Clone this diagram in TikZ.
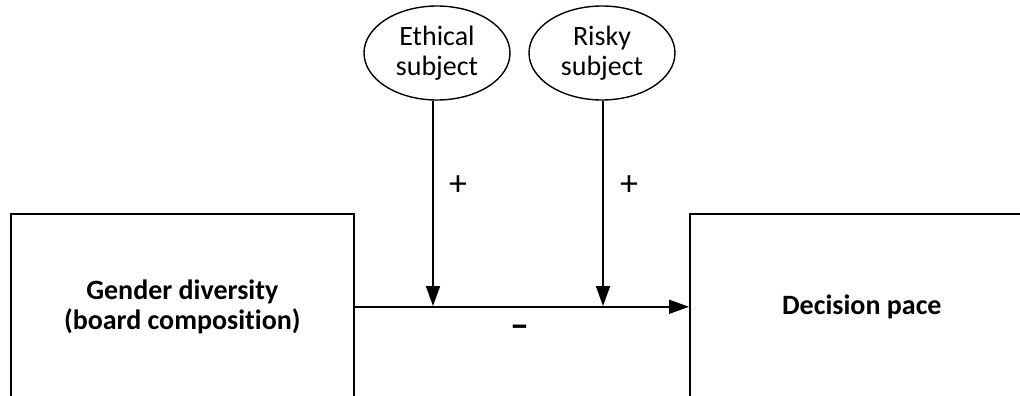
\documentclass[tikz,border=0pt]{standalone}
\usepackage{fontspec}
\setmainfont{Carlito}[Ligatures=NoCommon]
\usetikzlibrary{arrows.meta,shapes.geometric}
\begin{document}
\begin{tikzpicture}[x=1pt,y=-1pt,
  box/.style={draw,line width=1.6pt,rectangle,anchor=north west,inner sep=0pt,
    align=center,font=\fontsize{28}{30}\selectfont\bfseries},
  oval/.style={draw,line width=1.4pt,ellipse,inner sep=0pt,minimum width=146pt,minimum height=94pt,
    align=center,font=\fontsize{28}{30}\selectfont},
  arr/.style={line width=1.6pt,-{Triangle[length=20pt,width=14pt]}},
  sign/.style={font=\fontsize{36}{38}\selectfont},
  minus/.style={font=\fontsize{38}{40}\selectfont\bfseries}]
\useasboundingbox (0,0) rectangle (1020,396);
\clip (0,0) rectangle (1020,396);
\node[box,minimum width=343pt,minimum height=186pt] (gd) at (10,213) {Gender diversity\\(board composition)};
\node[box,minimum width=344pt,minimum height=186pt] (dp) at (689,213) {Decision pace};
\node[oval] (e1) at (437,53) {Ethical\\subject};
\node[oval] (e2) at (602,53) {Risky\\subject};
\coordinate (j1) at (433,306);
\coordinate (j2) at (603,306);
\draw[arr] (gd.east) -- (dp.west);
\draw[arr] (j1 |- e1.south) -- (j1);
\draw[arr] (j2 |- e2.south) -- (j2);
\node[sign] (p1) at (458,186) {+};
\node[sign] (p2) at (629,186) {+};
\node[minus] (m) at (520,331) {–};
\end{tikzpicture}
\end{document}
